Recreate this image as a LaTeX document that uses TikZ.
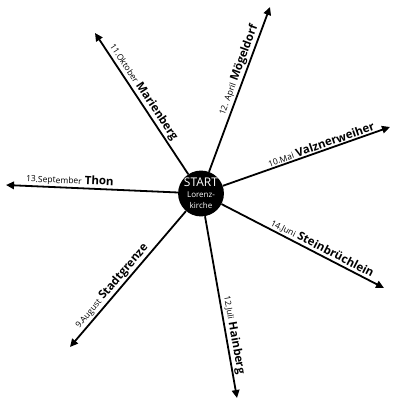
\documentclass[tikz,border=0pt]{standalone}
\usepackage{fontspec}
\setmainfont{Open Sans}
\usetikzlibrary{arrows.meta}
\newcommand{\dte}[1]{{\fontsize{8.5}{9}\selectfont\mdseries #1}}
\begin{document}
\begin{tikzpicture}[x=1pt,y=-1pt,
  route/.style={line width=1.8pt,-{Triangle[length=8pt,width=7.5pt]}},
  lbl/.style={sloped,above,inner sep=1.2pt,font=\fontsize{11.5}{12}\selectfont\bfseries}]
\useasboundingbox (0,0) rectangle (393,403);
\node[circle,fill=black,minimum size=43pt,inner sep=0pt,text=white,align=center] (c) at (201,193.5)
  {\fontsize{12}{12}\selectfont START\\[-1.5pt]\fontsize{8}{8}\selectfont Lorenz-\\[-0.5pt]\fontsize{8}{8}\selectfont kirche};
\coordinate (tM) at (95,33);
\coordinate (tMo) at (270,7);
\coordinate (tV) at (390,127);
\coordinate (tT) at (6,185);
\coordinate (tS) at (384,288);
\coordinate (tH) at (237,398);
\coordinate (tSt) at (70,347);
\draw[route] (c) -- node[lbl,pos=0.55] {\dte{11.Oktober} Marienberg} (tM);
\draw[route] (c) -- node[lbl,pos=0.6] {\dte{12. April} Mögeldorf} (tMo);
\draw[route] (c) -- node[lbl,pos=0.6] {\dte{10.Mai} Valznerweiher} (tV);
\draw[route] (c) -- node[lbl,pos=0.63] {\dte{13.September} Thon} (tT);
\draw[route] (c) -- node[lbl,pos=0.6] {\dte{14.Juni} Steinbrüchlein} (tS);
\draw[route] (c) -- node[lbl,pos=0.66] {\dte{12.Juli} Hainberg} (tH);
\draw[route] (c) -- node[lbl,pos=0.59] {\dte{9.August} Stadtgrenze} (tSt);
\end{tikzpicture}
\end{document}
